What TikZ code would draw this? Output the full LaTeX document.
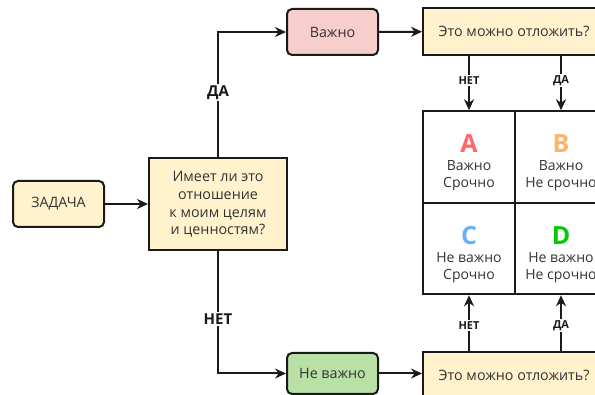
\documentclass[tikz,border=0pt]{standalone}
\usepackage{fontspec}
\setmainfont{Open Sans}
\usepackage{xcolor}
\usetikzlibrary{positioning, arrows.meta}
\definecolor{BoxYellow}{HTML}{FFF2CC}
\definecolor{BoxPink}{HTML}{F8CECC}
\definecolor{BoxGreen}{HTML}{B9E0A5}
\definecolor{LineDark}{HTML}{1A1A1A}
\definecolor{TextGrey}{HTML}{333333}
\definecolor{LetterA}{HTML}{FF6666}
\definecolor{LetterB}{HTML}{FFB366}
\definecolor{LetterC}{HTML}{66B2FF}
\definecolor{LetterD}{HTML}{00CC00}
\tikzset{
  box/.style={draw=LineDark, line width=2pt, fill=BoxYellow, text=TextGrey,
    font=\fontsize{14.3}{17.7}\selectfont, align=center, inner sep=0pt},
  roundbox/.style={box, rounded corners=5pt},
  cell/.style={draw=LineDark, line width=2pt, fill=white, text=TextGrey,
    minimum width=92pt, minimum height=91.5pt, inner sep=0pt, align=center,
    font=\fontsize{14}{17}\selectfont},
  link/.style={draw=LineDark, line width=2pt, -{Stealth[length=11pt,width=10pt]}},
  biglabel/.style={fill=white, text=LineDark, font=\bfseries\fontsize{15}{17}\selectfont, inner sep=1.5pt},
  smalllabel/.style={fill=white, text=LineDark, font=\bfseries\fontsize{11}{12}\selectfont, inner sep=1.5pt}
}
\newcommand{\quadletter}[2]{\rule{0pt}{30pt}\textcolor{#1}{\fontsize{25}{28}\selectfont\bfseries #2}}
\begin{document}
\begin{tikzpicture}[x=1pt, y=-1pt]
  \useasboundingbox (0,0) rectangle (595,395);
  \clip (0,0) rectangle (595,395);

  % left part
  \node[roundbox, minimum width=91pt, minimum height=46pt] (task) at (58.5,204) {ЗАДАЧА};
  \node[box, minimum width=138pt, minimum height=92pt] (question) at (218,204.5)
    {Имеет ли это\\отношение\\к моим целям\\и ценностям?};
  \node[roundbox, fill=BoxPink, minimum width=91pt, minimum height=46pt] (imp) at (332.5,32) {Важно};
  \node[roundbox, fill=BoxGreen, minimum width=91pt, minimum height=41pt] (notimp) at (332.5,373.5) {Не важно};

  % right part
  \node[box, minimum width=182pt, minimum height=47pt] (delaytop) at (514,31.5) {Это можно отложить?};
  \node[box, minimum width=182pt, minimum height=47pt] (delaybot) at (514,375.5) {Это можно отложить?};

  \node[cell] (cellA) at (469,157) {\quadletter{LetterA}{A}\\[1pt]Важно\\Срочно};
  \node[cell] (cellB) at (561,157) {\quadletter{LetterB}{B}\\[1pt]Важно\\Не срочно};
  \node[cell] (cellC) at (469,248.5) {\quadletter{LetterC}{C}\\[1pt]Не важно\\Срочно};
  \node[cell] (cellD) at (561,248.5) {\quadletter{LetterD}{D}\\[1pt]Не важно\\Не срочно};

  % connectors
  \draw[link] (task) -- (question.west |- task);
  \draw[link] (question.north) |- node[biglabel, pos=0.26] {ДА} (imp.west);
  \draw[link] (question.south) |- node[biglabel, pos=0.276] {НЕТ} (notimp.west);
  \draw[link] (imp) -- (delaytop);
  \draw[link] (notimp) -- (delaybot.west |- notimp);

  \draw[link] (delaytop.south -| cellA) -- node[smalllabel, pos=0.45] {НЕТ} (cellA.north);
  \draw[link] (delaytop.south -| cellB) -- node[smalllabel, pos=0.45] {ДА} (cellB.north);
  \draw[link] (delaybot.north -| cellC) -- node[smalllabel, pos=0.45] {НЕТ} (cellC.south);
  \draw[link] (delaybot.north -| cellD) -- node[smalllabel, pos=0.45] {ДА} (cellD.south);
\end{tikzpicture}
\end{document}
